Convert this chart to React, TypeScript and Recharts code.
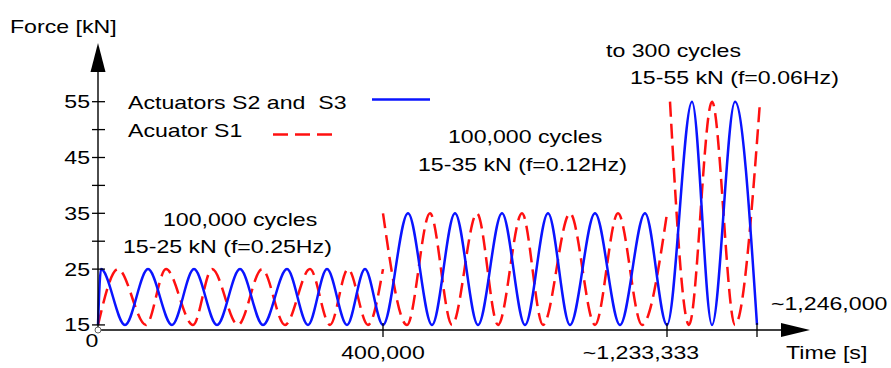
import React from 'react';
import { LineChart, Line, XAxis, YAxis, ReferenceDot } from 'recharts';

// Time axis in the original is schematic (not to scale), so positions are plot units from the origin
const bluePos = [0, 3, 27, 50, 74, 96, 119, 142, 165, 189, 210, 229, 249, 267, 285,
  310, 334, 357, 380, 404, 427, 450, 472, 497, 522, 547, 569,
  594, 614, 637, 659];
const blueForce = [15, 25, 15, 25, 15, 25, 15, 25, 15, 25, 15, 25, 15, 25, 15,
  35, 15, 35, 15, 35, 15, 35, 15, 35, 15, 35, 15,
  55, 15, 55, 15];

// actuator S1 jumps at each load step, so it is kept as three pieces
const red1Pos = [0, 20, 48, 68, 95, 114, 140, 164, 187, 212, 232, 250, 270, 285];
const red1Force = [15, 25, 15, 25, 15, 25, 15, 25, 15, 25, 15, 25, 15, 25];
const red2Pos = [285, 309, 332, 354, 379, 400, 424, 445, 472, 497, 520, 544, 569];
const red2Force = [35, 15, 35, 15, 35, 15, 35, 15, 35, 15, 35, 15, 35];
const red3Pos = [572, 591, 614, 637, 662];
const red3Force = [55, 15, 55, 15, 55];

const timeTicks = [0, 285, 569, 659];
const timeLabels = ['0', '400,000', '~1,233,333', '~1,246,000'];
const forceTicks = [15, 25, 30, 35, 40, 45, 50, 55];
const forceLabeled = [15, 25, 35, 45, 55];

const BLUE = '#0a14ff';
const RED = '#ff1010';
const DASH = '15 7';
const FONT = '"Liberation Sans", Arial, sans-serif';
const SX = 1.25; // the source picture is stretched sideways

const toPoints = (pos: number[], force: number[]) =>
  pos.map((p, i) => ({ pos: p, force: force[i] }));

const blueData = toPoints(bluePos, blueForce);
const red1 = toPoints(red1Pos, red1Force);
const red2 = toPoints(red2Pos, red2Force);
const red3 = toPoints(red3Pos, red3Force);

const Txt = ({ x, y, anchor = 'start', children }: any) => (
  <text
    transform={`translate(${x},${y}) scale(${SX},1)`}
    textAnchor={anchor}
    fontFamily={FONT}
    fontSize={18.5}
    fill="#000"
    style={{ whiteSpace: 'pre' }}
  >
    {children}
  </text>
);

const ForceTick = ({ x, y, payload }: any) => (
  <g>
    <line x1={x - 6} x2={x + 7} y1={y} y2={y} stroke="#000" strokeWidth={1.3} />
    {forceLabeled.includes(payload.value) && (
      <Txt x={x - 8} y={y + 6.5} anchor="end">{payload.value}</Txt>
    )}
  </g>
);

const TimeTick = ({ x, y, payload }: any) => {
  const i = timeTicks.indexOf(payload.value);
  const label = timeLabels[i];
  if (i === 0) return <Txt x={x - 6} y={y + 17} anchor="middle">{label}</Txt>;
  // the ~1,233,333 label sits a little left of its tick in the original
  const shift = i === 2 ? -26 : 0;
  return (
    <g>
      <line x1={x} x2={x} y1={y - 7} y2={y + 7} stroke="#000" strokeWidth={1.3} />
      {i === timeTicks.length - 1 ? (
        <Txt x={x + 14} y={y - 20}>{label}</Txt>
      ) : (
        <Txt x={x + shift} y={y + 29} anchor="middle">{label}</Txt>
      )}
    </g>
  );
};

const legendItems = [
  { name: 'Actuators S2 and  S3', color: BLUE, dash: undefined },
  { name: 'Acuator S1', color: RED, dash: DASH },
];

export default function App() {
  return (
    <div style={{ position: 'absolute', left: 0, top: 0, width: 891, height: 368, background: '#fff' }}>
      <LineChart width={891} height={368} margin={{ top: 72, right: 110, bottom: 8, left: 38 }}>
        <XAxis
          type="number"
          dataKey="pos"
          domain={[0, 683]}
          ticks={timeTicks}
          interval={0}
          tick={<TimeTick />}
          tickLine={false}
          tickSize={0}
          tickMargin={0}
          height={30}
          axisLine={{ stroke: '#000', strokeWidth: 1.4 }}
        />
        <YAxis
          type="number"
          dataKey="force"
          domain={[14.09, 60.32]}
          ticks={forceTicks}
          interval={0}
          tick={<ForceTick />}
          tickLine={false}
          tickSize={0}
          tickMargin={0}
          width={60}
          axisLine={{ stroke: '#000', strokeWidth: 1.4 }}
        />
        <Line data={red1} dataKey="force" type="monotoneX" stroke={RED} strokeWidth={2.5}
          strokeDasharray={DASH} dot={false} isAnimationActive={false} />
        <Line data={red2} dataKey="force" type="monotoneX" stroke={RED} strokeWidth={2.5}
          strokeDasharray={DASH} dot={false} isAnimationActive={false} />
        <Line data={red3} dataKey="force" type="monotoneX" stroke={RED} strokeWidth={2.5}
          strokeDasharray={DASH} dot={false} isAnimationActive={false} />
        <Line data={blueData} dataKey="force" type="monotoneX" stroke={BLUE} strokeWidth={2.5}
          dot={false} isAnimationActive={false} />
        <ReferenceDot x={0} y={14.09} r={3} fill="#fff" stroke="#666" strokeWidth={1} />
      </LineChart>

      <svg width={891} height={368} style={{ position: 'absolute', left: 0, top: 0, pointerEvents: 'none' }}>
        {/* axis arrow heads */}
        <polygon points="98,43 90.5,72 105.5,72" fill="#000" />
        <polygon points="810,330 781,323 781,337" fill="#000" />
        <Txt x={10} y={33}>Force [kN]</Txt>
        <Txt x={786} y={359}>Time [s]</Txt>

        {legendItems.map((item, i) => (
          <g key={item.name}>
            <Txt x={128} y={109 + i * 28}>{item.name}</Txt>
            <line
              x1={i === 0 ? 372 : 273}
              x2={i === 0 ? 430 : 333}
              y1={99.5 + i * 35}
              y2={99.5 + i * 35}
              stroke={item.color}
              strokeWidth={2.5}
              strokeDasharray={item.dash}
            />
          </g>
        ))}

        <Txt x={606} y={57}>to 300 cycles</Txt>
        <Txt x={630} y={84}>15-55 kN (f=0.06Hz)</Txt>
        <Txt x={448} y={143}>100,000 cycles</Txt>
        <Txt x={418} y={171}>15-35 kN (f=0.12Hz)</Txt>
        <Txt x={163} y={226}>100,000 cycles</Txt>
        <Txt x={123} y={253}>15-25 kN (f=0.25Hz)</Txt>
      </svg>
    </div>
  );
}
